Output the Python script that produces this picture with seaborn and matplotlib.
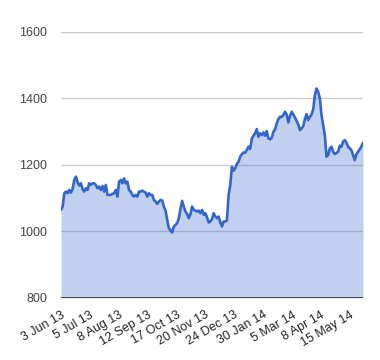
import numpy as np
import pandas as pd
import matplotlib
matplotlib.use("Agg")
import matplotlib.pyplot as plt
import seaborn as sns

# price readings, roughly every other trading day from 3 Jun 13
prices = [
    1065, 1075, 1115, 1120, 1115, 1125, 1117, 1128, 1155, 1165,
    1148, 1138, 1145, 1128, 1120, 1130, 1125, 1145, 1140, 1145,
    1145, 1140, 1130, 1135, 1125, 1137, 1120, 1140, 1110, 1110,
    1110, 1113, 1115, 1125, 1105, 1150, 1155, 1145, 1160, 1145,
    1150, 1125, 1120, 1110, 1105, 1110, 1105, 1120, 1120, 1123,
    1120, 1117, 1105, 1115, 1110, 1110, 1095, 1090, 1083, 1090,
    1095, 1093, 1075, 1063, 1035, 1010, 1003, 997, 1015, 1020,
    1025, 1040, 1068, 1092, 1075, 1060, 1053, 1040, 1052, 1075,
    1065, 1063, 1060, 1063, 1055, 1065, 1050, 1055, 1043, 1027,
    1030, 1037, 1055, 1045, 1040, 1045, 1028, 1015, 1030, 1030,
    1033, 1110, 1140, 1195, 1183, 1190, 1203, 1210, 1225, 1232,
    1238, 1237, 1245, 1255, 1248, 1280, 1288, 1295, 1308, 1285,
    1295, 1290, 1298, 1288, 1302, 1280, 1277, 1282, 1300, 1307,
    1325, 1338, 1345, 1345, 1350, 1360, 1352, 1328, 1347, 1360,
    1352, 1343, 1332, 1322, 1305, 1310, 1317, 1338, 1353, 1335,
    1345, 1352, 1368, 1410, 1430, 1420, 1400, 1350, 1320, 1290,
    1225, 1230, 1250, 1255, 1240, 1233, 1236, 1240, 1258, 1255,
    1270, 1275, 1268, 1255, 1250, 1245, 1230, 1215, 1232, 1240,
    1247, 1255, 1267,
]
tick_labels = ["3 Jun 13", "5 Jul 13", "8 Aug 13", "12 Sep 13", "17 Oct 13",
               "20 Nov 13", "24 Dec 13", "30 Jan 14", "5 Mar 14", "8 Apr 14",
               "15 May 14"]
y_ticks = [800, 1000, 1200, 1400, 1600]

df = pd.DataFrame({"i": np.arange(len(prices)), "price": prices})

sns.set_style("white")
plt.rcParams["font.family"] = ["Liberation Sans", "DejaVu Sans"]

fig = plt.figure(figsize=(3.8, 3.6), dpi=100)
ax = fig.add_axes([61 / 380, 62 / 360, 302 / 380, 266 / 360])

# gridlines sit behind the translucent area, like the original
for v in y_ticks[1:]:
    ax.axhline(v, color="#cccccc", lw=1, zorder=0)

ax.fill_between(df["i"], 800, df["price"], color="#3366cc", alpha=0.3, lw=0, zorder=1)
sns.lineplot(data=df, x="i", y="price", ax=ax, color="#3366cc", lw=1.9, zorder=2)
ax.axhline(800, color="#333333", lw=1.2, zorder=3)

ax.set_xlim(0, len(prices) - 1)
ax.set_ylim(800, 1600)
ax.set_yticks(y_ticks)
ax.set_yticklabels([str(v) for v in y_ticks], fontsize=9, color="#444444")

step = 17.4
ax.set_xticks([k * step for k in range(len(tick_labels))])
ax.set_xticklabels(tick_labels, rotation=30, ha="right", rotation_mode="anchor",
                   fontsize=9, color="#222222")
ax.tick_params(axis="y", length=0, pad=10)
ax.tick_params(axis="x", length=0, pad=8)
ax.set_xlabel("")
ax.set_ylabel("")
for s in ax.spines.values():
    s.set_visible(False)

fig.savefig("out.png", dpi=100)
